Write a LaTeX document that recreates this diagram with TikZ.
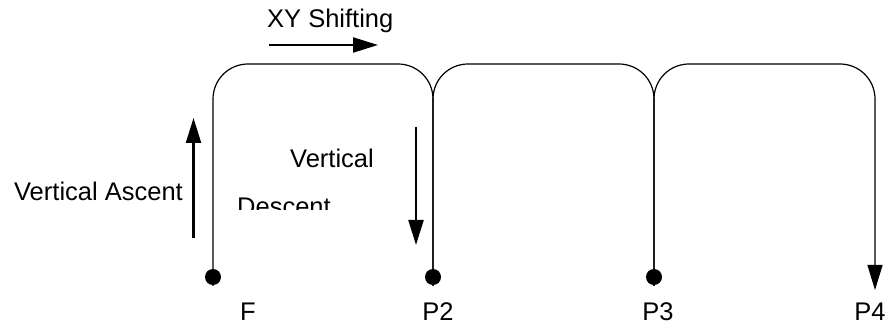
\documentclass[tikz,border=0pt]{standalone}
\usepackage{fontspec}
\setmainfont{Liberation Sans}
\usetikzlibrary{arrows.meta}

\def\toplevel{262}
\def\corner{35pt}

\begin{document}
\begin{tikzpicture}[x=1pt,y=1pt,
    dot/.style={circle,fill=black,inner sep=0pt,minimum size=16pt},
    lbl/.style={inner sep=0pt,font=\fontsize{25.5}{30}\selectfont},
    path/.style={line width=1.2pt,rounded corners=\corner},
    move/.style={line width=2.2pt,-{Triangle[length=25pt,width=15pt]}}]
  \useasboundingbox (0,0) rectangle (888,326);
  \coordinate (top) at (0,\toplevel);
  % stops
  \foreach \i/\x in {1/213,2/433,3/654,4/875}
    \coordinate (p\i) at (\x,49);
  % hops
  \foreach \a/\b in {1/2,2/3}
    \draw[path] ([yshift=-9pt]p\a) -- (p\a |- top) -- (p\b |- top) -- ([yshift=-9pt]p\b);
  \draw[path,-{Triangle[length=25pt,width=15pt]}] ([yshift=-9pt]p3) -- (p3 |- top)
    -- (p4 |- top) -- ([yshift=-13pt]p4);
  \foreach \i in {1,2,3}
    \node[dot] (d\i) at (p\i) {};
  \foreach \i/\x/\name in {1/248/F,2/438/P2,3/658/P3,4/870/P4}
    \node[lbl,anchor=base] (l\i) at (\x,5) {\name};
  % motions
  \coordinate (xy-s) at (269,281);
  \coordinate (xy-e) at (378,281);
  \draw[move] (xy-s) -- (xy-e);
  \node[lbl,anchor=base west] (xy) at (267,298) {XY Shifting};
  \coordinate (asc-s) at (193.5,88);
  \coordinate (asc-e) at (193.5,208);
  \draw[move] (asc-s) -- (asc-e);
  \node[lbl,anchor=base east] (asc) at (183,125) {Vertical Ascent};
  \coordinate (desc-s) at (416,199);
  \coordinate (desc-e) at (416,81);
  \draw[move] (desc-s) -- (desc-e);
  \node[lbl,anchor=base west] (vert) at (290,158) {Vertical};
  \begin{scope}
    \clip (230,116) rectangle (345,140);
    \node[lbl,anchor=base west] (desc) at (237,110) {Descent};
  \end{scope}
\end{tikzpicture}
\end{document}
